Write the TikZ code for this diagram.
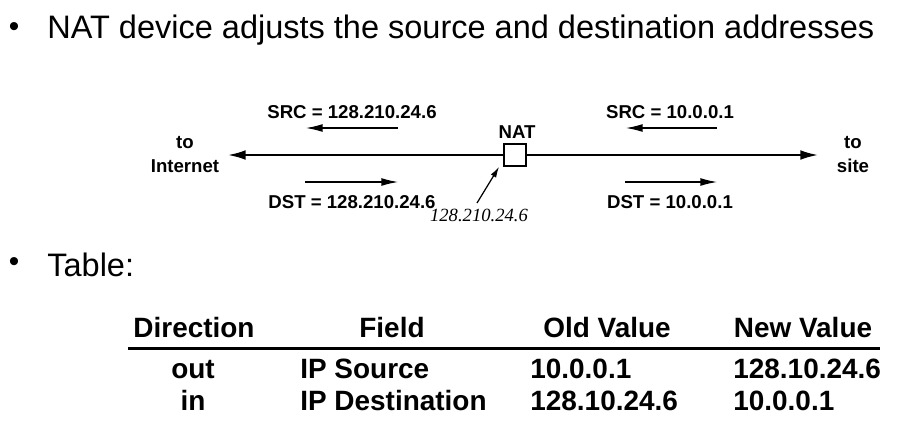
\documentclass[tikz,border=0pt]{standalone}
\usepackage{fontspec}
\setmainfont{Liberation Sans}
\newfontfamily\timesfont{Liberation Serif}
\usetikzlibrary{arrows.meta}

\begin{document}
\begin{tikzpicture}[x=0.02cm, y=-0.02cm]
	\tikzstyle{every node} = [inner sep=0pt, anchor=base]
	\tikzstyle{bigtext} = [font=\fontsize{18.5}{22}\selectfont, anchor=base west]
	\tikzstyle{dot} = [font=\fontsize{17}{20}\selectfont, anchor=center]
	\tikzstyle{lbl} = [font=\fontsize{10.6}{13.6}\selectfont\bfseries, align=center]
	\tikzstyle{cell} = [font=\fontsize{15.9}{18}\selectfont\bfseries]
	\tikzstyle{mainline} = [line width=1.1pt, -{Latex[length=10pt, width=5.5pt]}]
	\tikzstyle{pkt} = [line width=1.2pt, -{Latex[length=10pt, width=4.5pt]}]
	\tikzstyle{ptr} = [line width=0.7pt, -{Latex[length=6pt, width=3.5pt]}]
	\useasboundingbox (0,0) rectangle (912,423);
	\node[dot] (b1) at (14,30) {\textbullet};
	\node[bigtext] (title) at (47,38) {NAT device adjusts the source and destination addresses};
	\node[dot] (b2) at (14,265) {\textbullet};
	\node[bigtext] (tab) at (47,276) {Table:};
	\node[draw, line width=1.1pt, minimum size=0.44cm, anchor=center] (nat) at (515,155) {};
	\node[lbl] (nattxt) at (517,138.7) {NAT};
	\node[lbl] (inet) at (185,172.7) {to\\Internet};
	\node[lbl] (site) at (853,172.7) {to\\site};
	\node[lbl] (srcL) at (352,118.7) {SRC = 128.210.24.6};
	\node[lbl] (dstL) at (352,208.7) {DST = 128.210.24.6};
	\node[lbl] (srcR) at (670,118.7) {SRC = 10.0.0.1};
	\node[lbl] (dstR) at (670,208.7) {DST = 10.0.0.1};
	\node[font=\timesfont\itshape\fontsize{10.6}{12}\selectfont] (pub) at (479,221) {128.210.24.6};
	\coordinate (lend) at (228,155);
	\coordinate (rend) at (818,155);
	\coordinate (sLa) at (398,128);
	\coordinate (sLb) at (305,128);
	\coordinate (dLa) at (305,182);
	\coordinate (dLb) at (399,182);
	\coordinate (sRa) at (717,128);
	\coordinate (sRb) at (625,128);
	\coordinate (dRa) at (625,182);
	\coordinate (dRb) at (718,182);
	\coordinate (pa) at (477,203);
	\coordinate (pb) at (499,167);
	\draw [mainline] (nat) -- (lend);
	\draw [mainline] (nat) -- (rend);
	\draw [pkt] (sLa) -- (sLb);
	\draw [pkt] (dLa) -- (dLb);
	\draw [pkt] (sRa) -- (sRb);
	\draw [pkt] (dRa) -- (dRb);
	\draw [ptr] (pa) -- (pb);
	\node[cell] (hdir) at (194,337) {Direction};
	\node[cell] (hfld) at (392,337) {Field};
	\node[cell] (hold) at (607,337) {Old Value};
	\node[cell] (hnew) at (803,337) {New Value};
	\coordinate (rl) at (128,348);
	\coordinate (rr) at (880,348);
	\draw [line width=1.7pt] (rl) -- (rr);
	\node[cell] (d1) at (193,378) {out};
	\node[cell, anchor=base west] (f1) at (300,378) {IP Source};
	\node[cell, anchor=base west] (o1) at (530,378) {10.0.0.1};
	\node[cell, anchor=base west] (n1) at (733,378) {128.10.24.6};
	\node[cell] (d2) at (193,410) {in};
	\node[cell, anchor=base west] (f2) at (300,410) {IP Destination};
	\node[cell, anchor=base west] (o2) at (530,410) {128.10.24.6};
	\node[cell, anchor=base west] (n2) at (733,410) {10.0.0.1};
\end{tikzpicture}
\end{document}
